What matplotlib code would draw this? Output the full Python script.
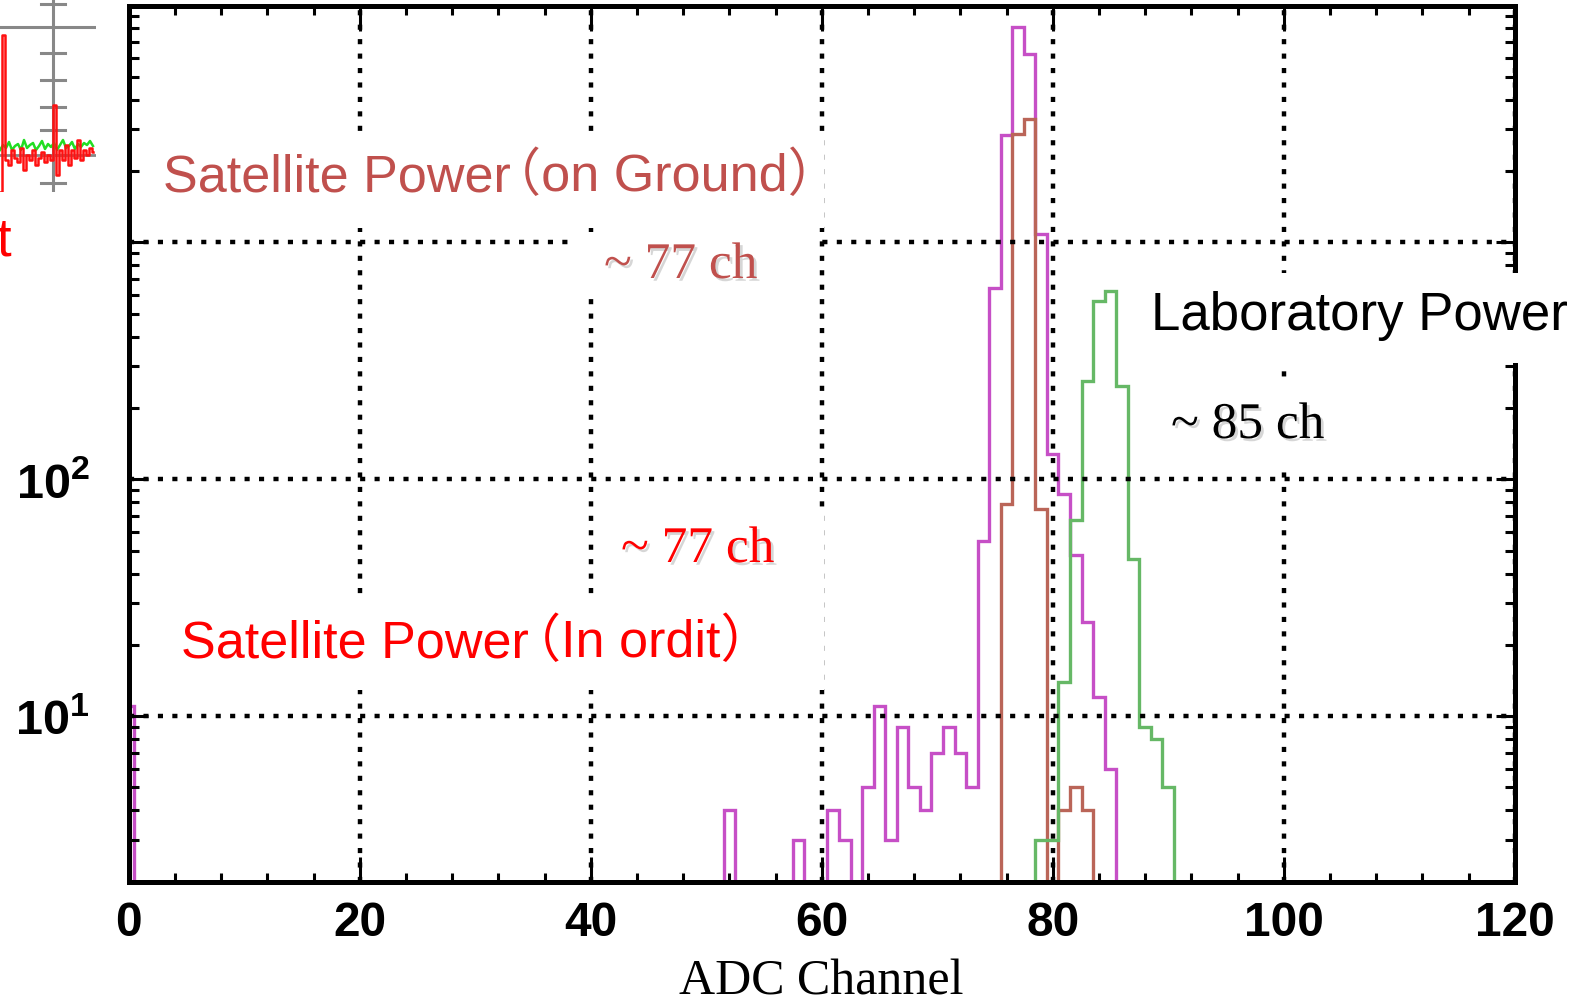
import numpy as np
import matplotlib
matplotlib.use("Agg")
import matplotlib.pyplot as plt
from matplotlib import patheffects as pe
from matplotlib.patches import Rectangle
from matplotlib.ticker import FixedLocator, MultipleLocator, LogLocator, FuncFormatter, NullFormatter

# ---------------- data ----------------
channels_orbit = [0, 52, 58, 61, 62, 64, 65, 66, 67, 68, 69, 70, 71, 72, 73,
                  74, 75, 76, 77, 78, 79, 80, 81, 82, 83, 84, 85]
counts_orbit = [11, 4, 3, 4, 3, 5, 11, 3, 9, 5, 4, 7, 9, 7, 5,
                55, 640, 2850, 8110, 6250, 1080, 128, 87, 48, 25, 12, 6]

channels_ground = [76, 77, 78, 79, 81, 82, 83]
counts_ground = [79, 2880, 3330, 75, 4, 5, 4]

channels_lab = [79, 80, 81, 82, 83, 84, 85, 86, 87, 88, 89, 90]
counts_lab = [3, 3, 14, 67, 260, 565, 622, 248, 46, 9, 8, 5]

x_ticks = [0, 20, 40, 60, 80, 100, 120]
y_tick_labels = {10: r"$10^{1}$", 100: r"$10^{2}$"}

# fragment of a neighbouring plot in the top-left corner
inset_x = [0, 3, 6, 9, 12, 15, 18, 21, 24, 27, 30, 33, 36, 39, 42, 45,
           48, 51, 54, 57, 60, 63, 66, 69, 72, 75, 78, 81, 84, 87, 90, 93]
inset_red = [192, 35, 160, 165, 150, 158, 162, 148, 170, 155, 160, 150, 165, 158, 152, 162,
             155, 160, 105, 175, 150, 160, 145, 165, 150, 158, 140, 160, 150, 155, 148, 152]
inset_green = [150, 145, 148, 142, 150, 146, 144, 150, 140, 148, 145, 143, 150, 146, 141, 149,
               144, 147, 143, 150, 145, 140, 148, 146, 142, 149, 144, 147, 143, 145, 141, 146]
inset_ticks_y = [4, 53, 80, 107, 130, 155, 183]

# ---------------- fonts ----------------
TICKFONT = "Liberation Sans"
SANS = ["Liberation Sans", "Noto Sans CJK SC", "DejaVu Sans"]
SERIF = ["Liberation Serif", "DejaVu Serif"]

plt.rcParams["mathtext.fontset"] = "custom"
plt.rcParams["mathtext.rm"] = TICKFONT + ":bold"
plt.rcParams["mathtext.it"] = TICKFONT + ":bold"
plt.rcParams["mathtext.bf"] = TICKFONT + ":bold"
plt.rcParams["mathtext.default"] = "rm"

W, H, DPI = 1579, 999, 100
fig = plt.figure(figsize=(W / DPI, H / DPI), dpi=DPI, facecolor="white")
renderer = fig.canvas.get_renderer()


def fx(x):
    return x / W


def fy(y):
    return 1 - y / H


L, R, T, B = 128.7, 1514.7, 5.5, 881.7
ax = fig.add_axes([fx(L), fy(B), fx(R) - fx(L), fy(T) - fy(B)])

edges = np.arange(-0.5, 121.5, 1.0)


def full(ch, cnt):
    v = np.zeros(121)
    v[np.array(ch)] = cnt
    return np.where(v > 0, v, 0.5)


lw_hist = 2.4
ax.stairs(full(channels_orbit, counts_orbit), edges, baseline=0.5, color="#C64FC6", lw=lw_hist)
ax.stairs(full(channels_ground, counts_ground), edges, baseline=0.5, color="#BA6558", lw=lw_hist)
ax.stairs(full(channels_lab, counts_lab), edges, baseline=0.5, color="#66B866", lw=lw_hist)

ax.set_yscale("log")
ax.set_xlim(0, 120)
ax.set_ylim(2, 1e4)

ax.xaxis.set_major_locator(FixedLocator(x_ticks))
ax.xaxis.set_minor_locator(MultipleLocator(4))
ax.yaxis.set_major_locator(FixedLocator([10, 100, 1000, 10000]))
ax.yaxis.set_minor_locator(LogLocator(base=10, subs=np.arange(2, 10)))
ax.yaxis.set_minor_formatter(NullFormatter())
ax.yaxis.set_major_formatter(FuncFormatter(lambda v, p: y_tick_labels.get(int(round(v)), "")))
ax.xaxis.set_major_formatter(FuncFormatter(lambda v, p: "%d" % v))

ax.set_axisbelow(False)
ax.grid(True, which="major", color="black", lw=3.2, linestyle=(0, (1.15, 2.1)))

for s in ax.spines.values():
    s.set_linewidth(3.6)
    s.set_color("black")

ax.tick_params(which="both", direction="in", top=True, right=True, width=2.2, color="black")
ax.tick_params(axis="x", which="major", length=18, pad=14, labelsize=34.5)
ax.tick_params(axis="x", which="minor", length=6.5)
ax.tick_params(axis="y", which="major", length=14, pad=28, labelsize=35)
ax.tick_params(axis="y", which="minor", length=7)
for lab in ax.get_xticklabels():
    lab.set_fontfamily(TICKFONT)
    lab.set_fontweight("bold")

ax.set_xlabel("ADC Channel", family=SERIF, fontsize=36, labelpad=9)

# white text boxes pasted over the chart
boxes = [(150, 133, 824, 228), (575, 236, 817, 292), (598, 508, 824, 597),
         (170, 600, 824, 690), (1133, 273, 1579, 363), (1150, 383, 1320, 470),
         (0, 195, 124, 300)]
for (x0, y0, x1, y1) in boxes:
    fig.add_artist(Rectangle((fx(x0), fy(y1)), fx(x1) - fx(x0), fy(y0) - fy(y1),
                             transform=fig.transFigure, facecolor="white",
                             edgecolor="none", zorder=5))

shadow = [pe.withSimplePatchShadow(offset=(2, -2), shadow_rgbFace="0.55", alpha=0.35)]


def put(s, x, y, c, fam, size, eff=None):
    t = fig.text(fx(x), fy(y), s, color=c, family=fam, fontsize=size,
                 ha="left", va="baseline", zorder=6)
    if eff:
        t.set_path_effects(eff)
    return t


def put_title(head, tail, x, y, c, size, shift):
    # the full-width brackets of the original sit closer to the words
    t1 = put(head, x, y, c, SANS, size)
    x1 = t1.get_window_extent(renderer=renderer).x1
    put(tail, x1 - shift, y, c, SANS, size)


put_title("Satellite Power", "（on Ground）", 163, 191, "#C0504D", 37.5, 22)
put("~ 77 ch", 604, 278, "#C0504D", SERIF, 37, shadow)
put("~ 77 ch", 621, 562, "#FF0000", SERIF, 37, shadow)
put_title("Satellite Power", "（In ordit）", 181, 657, "#FF0000", 37.5, 20)
put("Laboratory Power", 1151, 330, "black", SANS, 38)
put("~ 85 ch", 1171, 438, "black", SERIF, 37, shadow)
put("t", -4, 256, "#FF0000", SANS, 38)

# fragment of the neighbouring plot (top-left)
ins = fig.add_axes([0, fy(192), fx(96), fy(0) - fy(192)], zorder=7)
ins.set_xlim(0, 96)
ins.set_ylim(192, 0)
ins.axis("off")
ins.axvline(53, color="#888888", lw=2.2)
ins.axhline(27, color="#888888", lw=2.2)
ins.axhline(155, color="#888888", lw=2.0)
for ty in inset_ticks_y:
    ins.plot([41, 65], [ty, ty], color="#888888", lw=2.2)
ins.plot(inset_x, inset_green, color="#22DD22", lw=1.8)
ins.plot(inset_x, inset_red, color="#FF1010", lw=1.8, drawstyle="steps-mid")

fig.savefig("out.png", dpi=DPI, facecolor="white")
